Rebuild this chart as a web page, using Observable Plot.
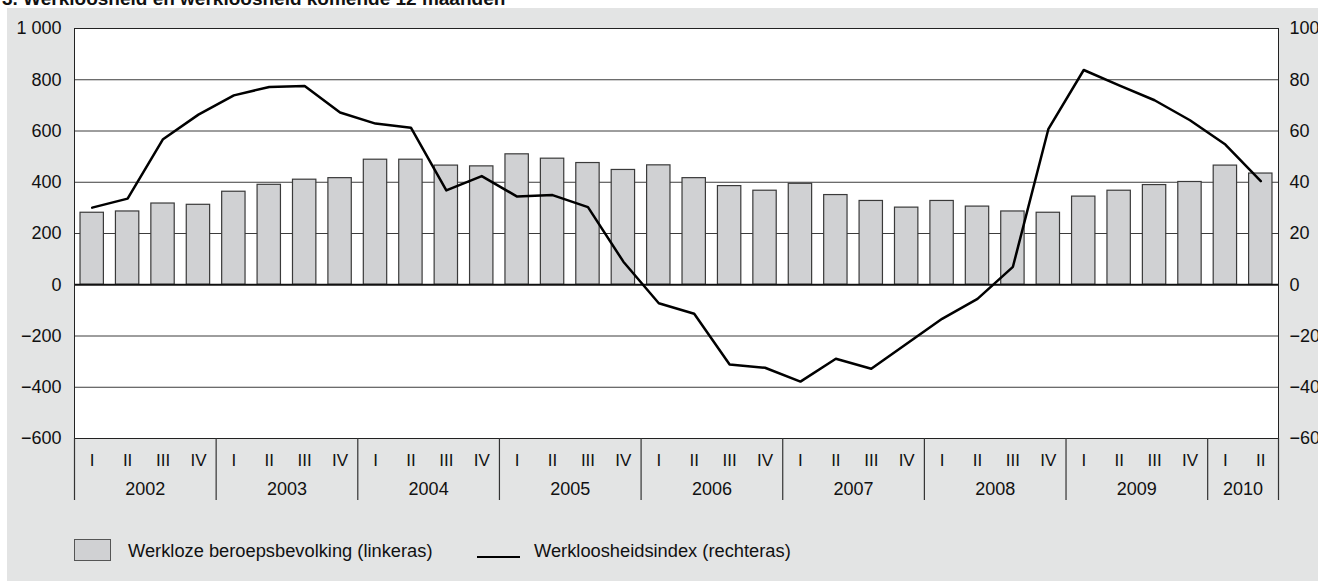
<!DOCTYPE html>
<html>
<head>
<meta charset="utf-8">
<script src="https://cdn.jsdelivr.net/npm/d3@7"></script>
<script src="https://cdn.jsdelivr.net/npm/@observablehq/plot@0.6"></script>
<style>
  html, body { margin: 0; padding: 0; background: #fff; overflow: hidden; width: 1318px; height: 581px;
    font-family: "Liberation Sans", Arial, Helvetica, sans-serif; color: #111; }
  #title { position: absolute; left: 2px; top: -11px; font-size: 19px; line-height: 19px; font-weight: bold; white-space: nowrap; }
  #panel { position: absolute; left: 7px; top: 8px; width: 1311px; height: 573px; background: #e3e4e4; }
  #chart { position: absolute; left: 0; top: 0; }
  .sw-box { position: absolute; left: 74px; top: 539px; width: 37px; height: 22px; background: #d0d1d3; border: 1px solid #555; box-sizing: border-box; }
  .sw-line { position: absolute; left: 477px; top: 556px; width: 43px; height: 2px; background: #000; }
  .lt { position: absolute; top: 542px; font-size: 18.3px; line-height: 18px; white-space: nowrap; }
</style>
</head>
<body>
<div id="title">3. Werkloosheid en werkloosheid komende 12 maanden</div>
<div id="panel"><div id="chart"></div></div>
<div class="sw-box"></div>
<div class="lt" style="left:128px">Werkloze beroepsbevolking (linkeras)</div>
<div class="sw-line"></div>
<div class="lt" style="left:534px">Werkloosheidsindex (rechteras)</div>
<script>
// Period labels
const periodYear = [
  2002, 2002, 2002, 2002, 2003, 2003, 2003, 2003, 2004, 2004, 2004, 2004,
  2005, 2005, 2005, 2005, 2006, 2006, 2006, 2006, 2007, 2007, 2007, 2007,
  2008, 2008, 2008, 2008, 2009, 2009, 2009, 2009, 2010, 2010
];
const periodQuarter = [
  "I", "II", "III", "IV", "I", "II", "III", "IV", "I", "II", "III", "IV",
  "I", "II", "III", "IV", "I", "II", "III", "IV", "I", "II", "III", "IV",
  "I", "II", "III", "IV", "I", "II", "III", "IV", "I", "II"
];
// Werkloze beroepsbevolking (linkeras, x 1000)
const unemployed = [
  281, 286, 317, 312, 363, 390, 410, 416, 488, 488, 465, 462,
  509, 492, 475, 448, 466, 416, 385, 367, 394, 350, 327, 301,
  327, 305, 286, 281, 344, 367, 389, 401, 465, 434
];
// Werkloosheidsindex (rechteras)
const unemploymentIndex = [
  30.1, 33.6, 56.8, 66.4, 73.9, 77.2, 77.6, 67.2, 62.9, 61.3, 36.8, 42.4,
  34.4, 35.0, 30.3, 9.0, -7.2, -11.3, -31.1, -32.4, -37.8, -28.9, -32.8, -23.0,
  -13.3, -5.5, 7.0, 60.7, 83.8, 77.8, 72.0, 64.2, 54.7, 40.4
];
const leftTicks = [-600, -400, -200, 0, 200, 400, 600, 800, 1000];
const rightTicks = [-60, -40, -20, 0, 20, 40, 60, 80, 100];
const RATIO = 10; // right axis unit = 10 left axis units

const data = periodQuarter.map((q, i) => ({
  i, q, year: periodYear[i], u: unemployed[i], w: unemploymentIndex[i]
}));
const yearGroups = d3.groups(data, d => d.year).map(([year, rows]) => ({
  year, start: rows[0].i, end: rows[rows.length - 1].i + 1
}));
const boundaries = [0, ...yearGroups.map(g => g.end)];

const fmt = d3.formatLocale({decimal: ",", thousands: " ", grouping: [3], minus: "\u2212"}).format(",d");

const chart = Plot.plot({
  width: 1311,
  height: 500,
  marginLeft: 67,
  marginRight: 40,
  marginTop: 20,
  marginBottom: 70,
  style: {background: "transparent", fontFamily: "'Liberation Sans', Arial, Helvetica, sans-serif", fontSize: "18px", color: "#111", overflow: "visible"},
  x: {domain: [0, data.length], axis: null},
  y: {domain: [-600, 1000], axis: null},
  marks: [
    Plot.frame({fill: "white", stroke: null}),
    Plot.ruleY(leftTicks.filter(d => d !== 0), {stroke: "#3c3c3c", strokeWidth: 1}),
    Plot.rectY(data, {x1: d => d.i + 0.17, x2: d => d.i + 0.83, y: "u", fill: "#d0d1d3", stroke: "#3a3a3a", strokeWidth: 1.2}),
    Plot.ruleY([0], {stroke: "#111", strokeWidth: 2}),
    Plot.lineY(data, {x: d => d.i + 0.5, y: d => d.w * RATIO, stroke: "#000", strokeWidth: 2.5}),
    Plot.frame({stroke: "#222", strokeWidth: 1}),
    Plot.axisY(leftTicks, {anchor: "left", label: null, tickSize: 0, tickPadding: 13, tickFormat: fmt, fontSize: 18}),
    Plot.axisY(rightTicks.map(v => v * RATIO), {anchor: "right", label: null, tickSize: 0, tickPadding: 11, tickFormat: d => fmt(d / RATIO), fontSize: 18}),
    Plot.ruleX(boundaries, {insetTop: 410, insetBottom: -62, stroke: "#333", strokeWidth: 1.2}),
    Plot.text(data, {x: d => d.i + 0.5, text: "q", frameAnchor: "bottom", dy: 27, fontSize: 17}),
    Plot.text(yearGroups, {x: d => (d.start + d.end) / 2, text: d => String(d.year), frameAnchor: "bottom", dy: 56, fontSize: 18})
  ]
});
document.getElementById("chart").appendChild(chart);
</script>
</body>
</html>
